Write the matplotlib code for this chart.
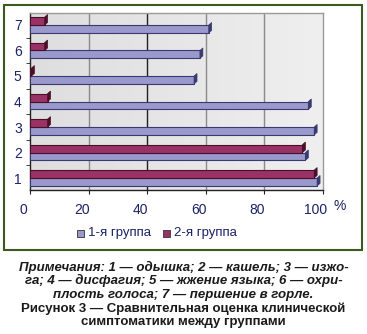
import matplotlib
matplotlib.use("Agg")
import matplotlib.pyplot as plt
from matplotlib.patches import Rectangle, Polygon
from matplotlib.colors import LinearSegmentedColormap
import matplotlib.transforms as mtransforms
import numpy as np

categories = ["1", "2", "3", "4", "5", "6", "7"]
group1 = [98, 94, 97, 95, 56, 58, 61]
group2 = [97, 93, 6, 6, 0.5, 5, 5]
series_names = ["1-я группа", "2-я группа"]
xticks = [0, 20, 40, 60, 80, 100]

c1 = "#9999cc"
c2 = "#993366"
e1 = "#3a3a70"
e2 = "#4a1028"
lab_col = "#1c2266"

plt.rcParams['font.family'] = ['Liberation Sans', 'DejaVu Sans']

W, H = 367, 334
fig = plt.figure(figsize=(W / 100, H / 100), dpi=100)

# outer frame
fig.patches.append(Rectangle((3.5 / W, 1 - 250 / H), 358 / W, 245 / H,
                             transform=fig.transFigure, fill=False,
                             edgecolor="#3d5a1e", linewidth=1.5))

ax = fig.add_axes([30 / W, 1 - 190 / H, 293 / W, 177 / H])
ax.set_xlim(0, 100)
ax.set_ylim(0.53, 7.47)

# light gradient background
cm = LinearSegmentedColormap.from_list("bg", ["#dedede", "#efefef"])
grad = np.linspace(0, 1, 256).reshape(1, -1)
ax.imshow(grad, extent=[0, 100, 0.53, 7.47], aspect="auto", cmap=cm,
          zorder=0, interpolation="bilinear")

for xv in [20, 60, 80]:
    ax.axvline(xv, color="#8a8a8a", linewidth=1.0, zorder=1)
ax.axvline(40, color="#202020", linewidth=1.0, zorder=1)

y = np.arange(1, len(categories) + 1)
h = 0.31
ax.barh(y - h / 2, group1, height=h, color=c1, edgecolor=e1, linewidth=0.8, zorder=3)
ax.barh(y + h / 2, group2, height=h, color=c2, edgecolor=e2, linewidth=0.8, zorder=3)

# 3D caps at bar ends
dx, dy = 1.0, 0.1
for yi, v1, v2 in zip(y, group1, group2):
    for yc, v, col in [(yi - h / 2, v1, e1), (yi + h / 2, v2, e2)]:
        y0, y1 = yc - h / 2, yc + h / 2
        ax.add_patch(Polygon([(v, y0), (v + dx, y0 + dy), (v + dx, y1 + dy), (v, y1)],
                             closed=True, facecolor=col, edgecolor=col,
                             linewidth=0.5, zorder=4))

ax.set_xticks(xticks)
ax.set_xticklabels([str(t) for t in xticks])
ax.set_yticks(y)
ax.set_yticklabels(categories)
ax.set_yticks(np.arange(0.5, 8, 1)[1:-1], minor=True)
ax.tick_params(axis="y", which="major", length=0, pad=6, labelsize=10, labelcolor=lab_col)
ax.tick_params(axis="y", which="minor", length=3, direction="out", color="#222222")
ax.tick_params(axis="x", length=3, direction="out", pad=6, labelsize=10,
               labelcolor=lab_col, color="#222222")

shift = mtransforms.ScaledTranslation(-7 / 100, 0, fig.dpi_scale_trans)
for lab in ax.get_xticklabels():
    lab.set_transform(lab.get_transform() + shift)

for s in ["left", "bottom"]:
    ax.spines[s].set_color("#222222")
    ax.spines[s].set_linewidth(1.0)
for s in ["top", "right"]:
    ax.spines[s].set_color("#9a9a9a")
    ax.spines[s].set_linewidth(1.0)

fig.text(340 / W, 1 - 206 / H, "%", fontsize=10, color=lab_col,
         ha="center", va="center")

# legend
ly = 1 - 233 / H
for sx, tx, col, name in [(80, 88, c1, series_names[0]), (166, 174, c2, series_names[1])]:
    fig.patches.append(Rectangle(((sx - 3.5) / W, ly - 3.5 / H), 7 / W, 7 / H,
                                 transform=fig.transFigure, facecolor=col,
                                 edgecolor="#333333", linewidth=0.6))
    fig.text(tx / W, ly, name, fontsize=9.5, color=lab_col, ha="left", va="center")

# caption
cap_lines = [
    ("Примечания: 1 — одышка; 2 — кашель; 3 — изжо-", "italic"),
    ("га; 4 — дисфагия; 5 — жжение языка; 6 — охри-", "italic"),
    ("плость голоса; 7 — першение в горле.", "italic"),
    ("Рисунок 3 — Сравнительная оценка клинической", "normal"),
    ("симптоматики между группами", "normal"),
]
for i, (t, st) in enumerate(cap_lines):
    fig.text(0.5, 1 - (267 + 13.8 * i) / H, t, fontsize=9.5, fontweight="bold",
             fontstyle=st, color="#1a1a1a", ha="center", va="center")

fig.savefig("out.png", dpi=100)
